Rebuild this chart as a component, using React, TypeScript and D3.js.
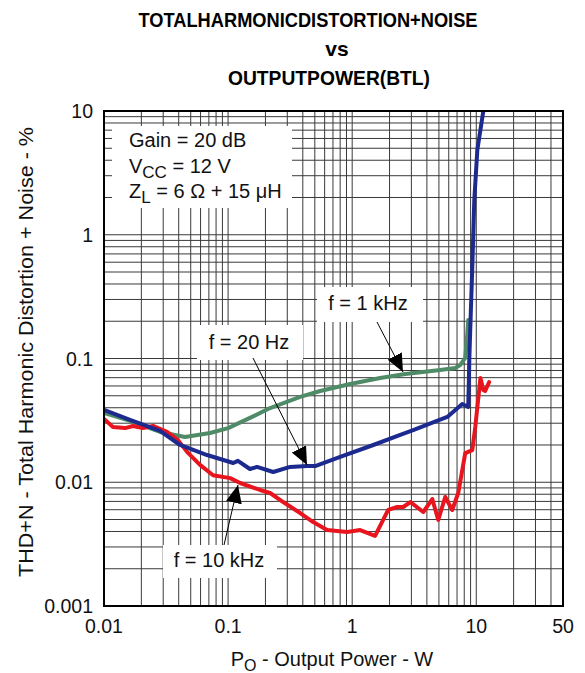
import React from "react";
import * as d3 from "d3";

const W = 585;
const H = 673;

// Data: output power (W) and THD+N (%)
const green1kP = [0.01, 0.0162, 0.0283, 0.045, 0.0716, 0.1, 0.15, 0.218, 0.381, 0.552, 0.963, 1.68, 2.68, 5.13, 6.77, 7.43, 8.15, 8.45, 8.61];
const green1kV = [0.0363, 0.0313, 0.0255, 0.0232, 0.025, 0.0274, 0.0331, 0.0398, 0.0489, 0.0546, 0.0622, 0.0696, 0.075, 0.0807, 0.0838, 0.0886, 0.101, 0.155, 0.2047];

const blue20P = [0.01, 0.0162, 0.0283, 0.041, 0.0677, 0.11, 0.12, 0.15, 0.171, 0.231, 0.316, 0.434, 0.503, 0.8, 1.48, 2.44, 3.1, 5.84, 7.71, 8.61, 8.7, 8.78, 9.29, 9.64, 10.2, 11.4];
const blue20V = [0.0384, 0.0319, 0.026, 0.02, 0.0166, 0.0143, 0.0149, 0.0128, 0.0133, 0.0121, 0.0133, 0.0135, 0.0135, 0.016, 0.02, 0.0241, 0.0264, 0.0337, 0.0429, 0.0406, 0.06, 0.0972, 0.549, 1.91, 4.84, 10];

const red10kP = [0.01, 0.0118, 0.0148, 0.0171, 0.0206, 0.0248, 0.0322, 0.0395, 0.0467, 0.0594, 0.0757, 0.104, 0.125, 0.181, 0.218, 0.278, 0.381, 0.485, 0.628, 0.911, 1.16, 1.53, 1.95, 2.31, 2.58, 2.94, 3.74, 4.42, 4.94, 5.62, 6.4, 7.16, 8.15, 9.29, 9.82, 10.8, 11.4, 11.8, 12.7];
const red10kV = [0.0325, 0.028, 0.0274, 0.0285, 0.0274, 0.0285, 0.0255, 0.0219, 0.0176, 0.0138, 0.0114, 0.0108, 0.00986, 0.00866, 0.00819, 0.00692, 0.00564, 0.00477, 0.00411, 0.00396, 0.00411, 0.00368, 0.00597, 0.00631, 0.00631, 0.00692, 0.00575, 0.00732, 0.00496, 0.0076, 0.00597, 0.00819, 0.0172, 0.0182, 0.028, 0.0696, 0.0557, 0.0546, 0.0646];

const xTickValues = [0.01, 0.1, 1, 10, 50];
const xTickLabels = ["0.01", "0.1", "1", "10", "50"];
const yTickValues = [0.001, 0.01, 0.1, 1, 10];
const yTickLabels = ["0.001", "0.01", "0.1", "1", "10"];

const FONT = "'Liberation Sans', Arial, Helvetica, sans-serif";

export default function App() {
  const x = d3.scaleLog().domain([0.01, 50]).range([104, 563]);
  const y = d3.scaleLog().domain([0.001, 10]).range([606, 111]);

  const xGrid: number[] = [];
  [0.01, 0.1, 1, 10].forEach((d) => {
    for (let k = 1; k <= 9; k++) {
      const v = k * d;
      if (v <= 50.0001) xGrid.push(v);
    }
  });
  const yGrid: number[] = [];
  [0.001, 0.01, 0.1, 1].forEach((d) => {
    for (let k = 1; k <= 9; k++) yGrid.push(k * d);
  });

  const line = d3
    .line<[number, number]>()
    .x((d) => x(d[0]))
    .y((d) => y(d[1]));

  const zip = (a: number[], b: number[]) => a.map((v, i) => [v, b[i]] as [number, number]);

  const series = [
    { p: green1kP, v: green1kV, color: "#4f8b67" },
    { p: red10kP, v: red10kV, color: "#e8141e" },
    { p: blue20P, v: blue20V, color: "#1c2a90" },
  ];

  return (
    <svg width={W} height={H} style={{ position: "absolute", left: 0, top: 0, background: "#fff" }} fontFamily={FONT}>
      <defs>
        <clipPath id="plotclip">
          <rect x={104} y={111} width={459} height={495} />
        </clipPath>
        <marker id="arr" markerUnits="userSpaceOnUse" markerWidth={20} markerHeight={16} refX={18} refY={8} orient="auto">
          <path d="M0,0 L18,8 L0,16 Z" fill="#000" />
        </marker>
      </defs>
      <rect x={0} y={0} width={W} height={H} fill="#fff" />

      {/* Title */}
      <text x={308} y={27} textAnchor="middle" fontSize={21} fontWeight="bold" textLength={339} lengthAdjust="spacingAndGlyphs">
        TOTALHARMONICDISTORTION+NOISE
      </text>
      <text x={337} y={56} textAnchor="middle" fontSize={21} fontWeight="bold">
        vs
      </text>
      <text x={329} y={85} textAnchor="middle" fontSize={21} fontWeight="bold" textLength={202} lengthAdjust="spacingAndGlyphs">
        OUTPUTPOWER(BTL)
      </text>

      {/* Grid */}
      <g stroke="#3a3a3a" strokeWidth={1}>
        {xGrid.map((v, i) => (
          <line key={"gx" + i} x1={x(v)} x2={x(v)} y1={111} y2={606} />
        ))}
        {yGrid.map((v, i) => (
          <line key={"gy" + i} x1={104} x2={563} y1={y(v)} y2={y(v)} />
        ))}
      </g>

      {/* White label boxes */}
      <rect x={112} y={126} width={180} height={82} fill="#fff" />
      <rect x={317} y={287} width={106} height={35} fill="#fff" />
      <rect x={197} y={325} width={106} height={35} fill="#fff" />
      <rect x={163} y={545} width={114} height={33} fill="#fff" />

      {/* Curves */}
      <g clipPath="url(#plotclip)" fill="none" strokeWidth={4} strokeLinejoin="round" strokeLinecap="round">
        {series.map((s, i) => (
          <path key={i} d={line(zip(s.p, s.v)) || ""} stroke={s.color} />
        ))}
      </g>

      {/* Plot border */}
      <rect x={104} y={111} width={459} height={495} fill="none" stroke="#000" strokeWidth={2} />

      {/* Legend text */}
      <g fontSize={20} fill="#111">
        <text x={129} y={147}>Gain = 20 dB</text>
        <text x={129} y={173}>
          V<tspan fontSize={17} dy={5}>CC</tspan>
          <tspan dy={-5}> = 12 V</tspan>
        </text>
        <text x={129} y={198}>
          Z<tspan fontSize={17} dy={5}>L</tspan>
          <tspan dy={-5}> = 6 Ω + 15 μH</tspan>
        </text>
      </g>

      {/* Annotations */}
      <g fontSize={20} fill="#111">
        <text x={368} y={310} textAnchor="middle">f = 1 kHz</text>
        <text x={249} y={349} textAnchor="middle">f = 20 Hz</text>
        <text x={219} y={567} textAnchor="middle">f = 10 kHz</text>
      </g>
      <g stroke="#000" strokeWidth={1}>
        <line x1={377} y1={322} x2={403} y2={372} markerEnd="url(#arr)" />
        <line x1={253} y1={358} x2={307} y2={465} markerEnd="url(#arr)" />
        <line x1={224} y1={545} x2={238} y2={485} markerEnd="url(#arr)" />
      </g>

      {/* Tick labels */}
      <g fontSize={19.5} fill="#111">
        {xTickValues.map((v, i) => (
          <text key={"xt" + i} x={x(v)} y={633} textAnchor="middle">
            {xTickLabels[i]}
          </text>
        ))}
        {yTickValues.map((v, i) => (
          <text key={"yt" + i} x={93} y={y(v) + 7} textAnchor="end">
            {yTickLabels[i]}
          </text>
        ))}
      </g>

      {/* Axis titles */}
      <text x={332} y={666} textAnchor="middle" fontSize={20} fill="#111">
        P<tspan fontSize={16} dy={5}>O</tspan>
        <tspan dy={-5}> - Output Power - W</tspan>
      </text>
      <text transform="translate(33,352) rotate(-90)" textAnchor="middle" fontSize={20} fill="#111" textLength={450} lengthAdjust="spacingAndGlyphs">
        THD+N - Total Harmonic Distortion + Noise - %
      </text>
    </svg>
  );
}
